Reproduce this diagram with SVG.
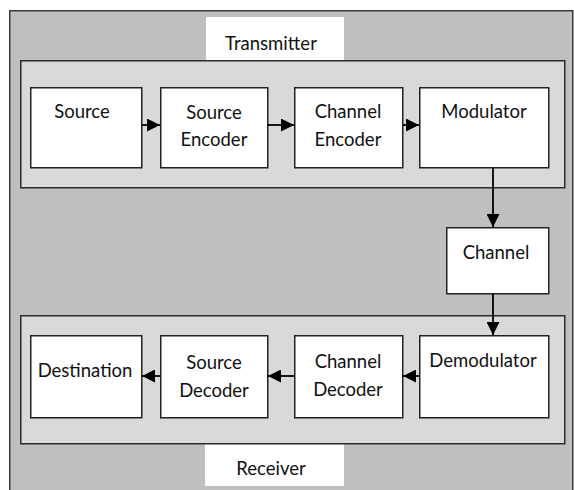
<svg xmlns="http://www.w3.org/2000/svg" width="574" height="490" viewBox="0 0 574 490">
<defs>
<style>
.outer{fill:#bfbfbf;stroke:#3a3a3a;stroke-width:1.5}
.panel{fill:#d9d9d9;stroke:#2a2a2a;stroke-width:1.5}
.label{fill:#ffffff;stroke:none}
.box{fill:#ffffff;stroke:#222;stroke-width:1.5}
.t{font-family:Lato,"Liberation Sans",Arial,sans-serif;font-size:18.5px;fill:#111;text-anchor:middle}
.c{stroke:#000;stroke-width:1.8;fill:none;marker-end:url(#ah)}
</style>
<marker id="ah" markerUnits="userSpaceOnUse" markerWidth="13" markerHeight="13" refX="13" refY="6.5" orient="auto">
<path d="M0,0 L13,6.5 L0,13 z" fill="#000"/>
</marker>
</defs>
<rect width="574" height="490" fill="#ffffff"/>
<rect class="outer" x="9.75" y="10.75" width="563" height="490"/>

<g id="transmitter">
<rect class="label" x="206" y="17" width="138" height="44"/>
<rect class="panel" x="20.75" y="60.75" width="544" height="127"/>
<text class="t" x="271" y="50">Transmitter</text>
</g>
<g id="receiver">
<rect class="label" x="205" y="444" width="139" height="42"/>
<rect class="panel" x="20.75" y="315.75" width="544" height="128"/>
<text class="t" x="271" y="475">Receiver</text>
</g>

<g id="source"><rect class="box" x="30.75" y="87.75" width="111" height="80"/><text class="t" x="82" y="118">Source</text></g>
<g id="source-encoder"><rect class="box" x="160.75" y="87.75" width="107" height="80"/><text class="t" x="214" y="119">Source</text><text class="t" x="214" y="146">Encoder</text></g>
<g id="channel-encoder"><rect class="box" x="294.75" y="87.75" width="108" height="80"/><text class="t" x="348" y="118">Channel</text><text class="t" x="348" y="146">Encoder</text></g>
<g id="modulator"><rect class="box" x="419.75" y="87.75" width="129" height="80"/><text class="t" x="484" y="118">Modulator</text></g>
<g id="channel"><rect class="box" x="446.75" y="227.75" width="102" height="66"/><text class="t" x="496" y="259">Channel</text></g>
<g id="demodulator"><rect class="box" x="419.75" y="335.75" width="129" height="82"/><text class="t" x="483" y="367">Demodulator</text></g>
<g id="channel-decoder"><rect class="box" x="294.75" y="335.75" width="108" height="82"/><text class="t" x="348" y="368">Channel</text><text class="t" x="348" y="396">Decoder</text></g>
<g id="source-decoder"><rect class="box" x="160.75" y="335.75" width="107" height="82"/><text class="t" x="214" y="369">Source</text><text class="t" x="214" y="397">Decoder</text></g>
<g id="destination"><rect class="box" x="30.75" y="335.75" width="111" height="82"/><text class="t" x="85" y="377">Destination</text></g>

<g id="connectors">
<line class="c" x1="142" y1="125" x2="160" y2="125"/>
<line class="c" x1="268" y1="125" x2="294" y2="125"/>
<line class="c" x1="403" y1="125" x2="419" y2="125"/>
<line class="c" x1="493" y1="168" x2="493" y2="227"/>
<line class="c" x1="493" y1="294" x2="493" y2="335"/>
<line class="c" x1="419" y1="376" x2="403" y2="376"/>
<line class="c" x1="294" y1="376" x2="268" y2="376"/>
<line class="c" x1="160" y1="376" x2="142" y2="376"/>
</g>
</svg>
